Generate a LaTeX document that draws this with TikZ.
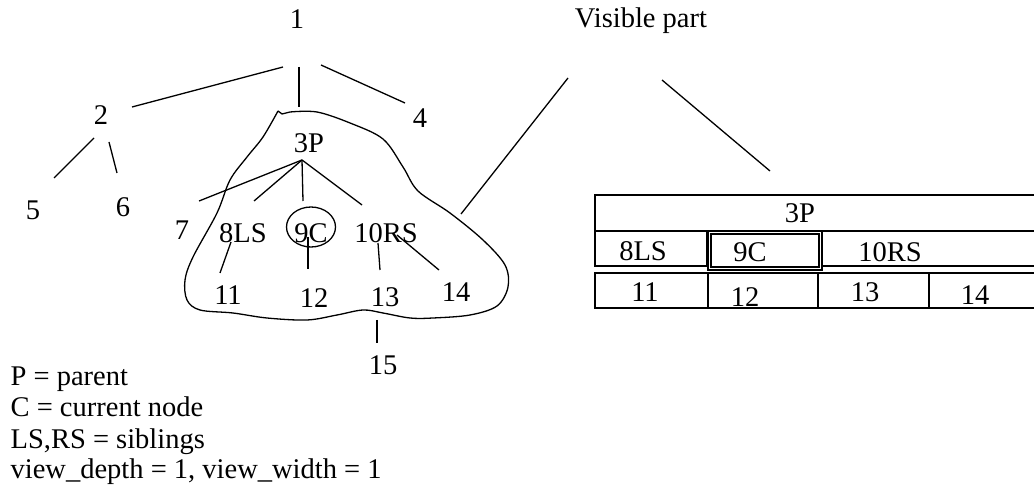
\documentclass[tikz,border=0pt]{standalone}
\usepackage{fontspec}
\setmainfont{Liberation Serif}
\begin{document}
\begin{tikzpicture}[x=1pt,y=-1pt,line width=1.3pt,
  lbl/.style={anchor=base,inner sep=0pt,font=\fontsize{28.5}{32}\selectfont},
  cell/.style={draw,line width=1.3pt}]
\useasboundingbox (0,0) rectangle (1034,486);
\begin{scope}
\clip (0,0) rectangle (1034,486);
% tree labels
\node[lbl] (n1) at (297,29) {1};
\node[lbl] (vis) at (641,28) {Visible part};
\node[lbl] (n2) at (101,125) {2};
\node[lbl] (n4) at (420,128) {4};
\node[lbl] (n5) at (33,220) {5};
\node[lbl] (n6) at (123,217) {6};
\node[lbl] (n3) at (309,153) {3P};
\node[lbl] (n7) at (182,240) {7};
\node[lbl] (n8) at (243,243) {8LS};
\node[lbl] (n9) at (311,243) {9C};
\node[lbl] (n10) at (386,243) {10RS};
\node[lbl] (n11) at (228,305) {11};
\node[lbl] (n12) at (314,308) {12};
\node[lbl] (n13) at (385,307) {13};
\node[lbl] (n14) at (456,302) {14};
\node[lbl] (n15) at (383,375) {15};
\draw (311,227) ellipse [x radius=24.5, y radius=20];
% connector end points
\coordinate (a1) at (283,67); \coordinate (a2) at (132,107);
\coordinate (b1) at (299,67); \coordinate (b2) at (299,107);
\coordinate (c1) at (321,65); \coordinate (c2) at (405,103);
\coordinate (d1) at (94,138); \coordinate (d2) at (54,178);
\coordinate (e1) at (109,142); \coordinate (e2) at (117,173);
\coordinate (p) at (302,160);
\coordinate (f7) at (199,201); \coordinate (f8) at (254,201);
\coordinate (f9) at (303,201); \coordinate (f10) at (362,205);
\coordinate (g1) at (231,242); \coordinate (g2) at (220,273);
\coordinate (h1) at (308,237); \coordinate (h2) at (308,269);
\coordinate (i1) at (378,243); \coordinate (i2) at (380,270);
\coordinate (j1) at (397,235); \coordinate (j2) at (439,270);
\coordinate (k1) at (377,320); \coordinate (k2) at (377,343);
\coordinate (v1) at (568,78); \coordinate (v2) at (461,214);
\coordinate (w1) at (662,80); \coordinate (w2) at (770,171);
\draw (a1) -- (a2); \draw (b1) -- (b2); \draw (c1) -- (c2);
\draw (d1) -- (d2); \draw (e1) -- (e2);
\draw (p) -- (f7); \draw (p) -- (f8); \draw (p) -- (f9); \draw (p) -- (f10);
\draw (g1) -- (g2); \draw (h1) -- (h2); \draw (i1) -- (i2); \draw (j1) -- (j2);
\draw (k1) -- (k2);
\draw (v1) -- (v2); \draw (w1) -- (w2);
% blob
\draw (278,111) -- (282,114) -- (290,112) plot[smooth,tension=0.55] coordinates {
(290,112) (317,112) (350,123) (383,139) (403,167) (418,191) (450,213) (483,240)
(505,265) (508,287) (497,306) (470,315) (433,318) (410,318) (383,313) (363,310)
(337,315) (307,320) (267,318) (233,313) (200,310) (187,300) (185,280) (193,257)
(217,213) (230,180) (247,157) (263,137) (278,111)};
% table
\draw[cell] (595,195) rectangle (1040,231);
\draw[cell] (595,231) rectangle (707,266);
\draw[cell] (708,231) rectangle (822,270);
\draw[cell] (711,234) rectangle (819,267);
\draw[cell] (822,231) rectangle (1040,266);
\draw[cell] (595,273) rectangle (708,308);
\draw[cell] (708,273) rectangle (818,308);
\draw[cell] (818,273) rectangle (929,308);
\draw[cell] (929,273) rectangle (1040,308);
\node[lbl] (t3) at (800,223) {3P};
\node[lbl] (t8) at (643,261) {8LS};
\node[lbl] (t9) at (750,262) {9C};
\node[lbl] (t10) at (890,262) {10RS};
\node[lbl] (t11) at (645,302) {11};
\node[lbl] (t12) at (745,307) {12};
\node[lbl] (t13) at (865,302) {13};
\node[lbl] (t14) at (975,305) {14};
% legend
\node[lbl,anchor=base west] (l1) at (10,386) {P = parent};
\node[lbl,anchor=base west] (l2) at (10,417) {C = current node};
\node[lbl,anchor=base west] (l3) at (10,448) {LS,RS = siblings};
\node[lbl,anchor=base west] (l4) at (10,478) {view\_depth = 1, view\_width = 1};
\end{scope}
\end{tikzpicture}
\end{document}
